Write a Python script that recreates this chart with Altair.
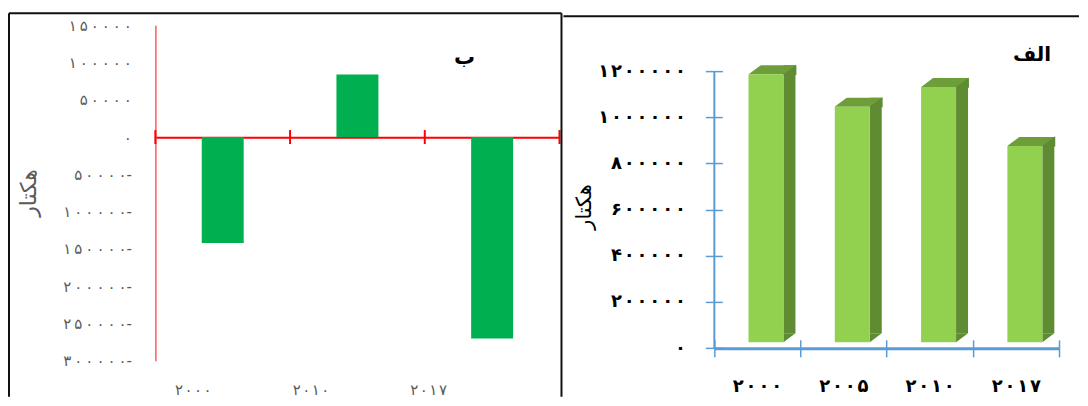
import altair as alt
import pandas as pd

# ---------------- data ----------------
# Panel "ب" (left)
left_years = ["2000", "2010", "2017"]
left_values = [-142000, 84000, -270000]
left_ticks = [150000, 100000, 50000, 0, -50000, -100000, -150000, -200000, -250000, -300000]

# Panel "الف" (right)
right_years = ["2000", "2005", "2010", "2017"]
right_values = [1160000, 1020000, 1105000, 850000]
right_ticks = [0, 200000, 400000, 600000, 800000, 1000000, 1200000]

title_left = "ب"
title_right = "الف"
y_title = "هکتار"

FA_DIGITS = "۰۱۲۳۴۵۶۷۸۹"
FA = str.maketrans("0123456789", FA_DIGITS)


def fa_expr(s, sep=""):
    e = s
    for d in range(10):
        e = f"replace({e}, regexp('{d}', 'g'), '{FA_DIGITS[d]}{sep}')"
    return f"trim({e})" if sep else e


num = "format(abs(datum.value), 'd')"


def y_label_expr(sep):
    return f"datum.value < 0 ? {fa_expr(num, sep)} + '-' : {fa_expr(num, sep)}"


THIN = "\u2009"
HAIR = "\u200a"
year_label_expr = f"isValid(datum.value) && datum.value !== '' ? {fa_expr(chr(39) * 2 + ' + datum.value', HAIR)} : ''"

FONT = "DejaVu Sans"
LW, LH = 553, 384
RW, RH = 516, 384

# ---------------- left panel ----------------
ldf = pd.DataFrame({"year": left_years, "value": left_values,
                    "label": [HAIR.join(y.translate(FA)) for y in left_years]})
one = pd.DataFrame({"t": [0]})

lx_scale = alt.Scale(domain=left_years, range=[146.5, 551], paddingInner=0, paddingOuter=0)
ly_scale = alt.Scale(domain=[-300000, 150000], range=[348, 12], nice=False)

lbars = alt.Chart(ldf).mark_bar(width=42, color="#00B050").encode(
    x=alt.X("year:N", scale=lx_scale,
            axis=alt.Axis(orient="top", offset=-124.3, domain=True, domainColor="#FF0000",
                          domainWidth=2, ticks=False, tickSize=0, labels=False, title=None, grid=False)),
    y=alt.Y("value:Q", scale=ly_scale,
            axis=alt.Axis(orient="left", offset=-146.5, values=left_ticks, domain=True,
                          domainColor="#FF5A5A", domainWidth=1.5, ticks=False, tickSize=0,
                          labelPadding=24, labelExpr=y_label_expr(THIN), labelColor="#595959",
                          labelFontSize=15, labelFont=FONT, title=None, grid=False)),
    y2=alt.datum(0),
)
ltick = alt.Chart(ldf).mark_rule(color="#FF0000", strokeWidth=2, yOffset=-7, y2Offset=7).encode(
    x=alt.X("year:N", scale=lx_scale, bandPosition=0),
    y=alt.datum(0), y2=alt.datum(0),
)
ltick_end = alt.Chart(ldf).transform_filter(alt.datum.year == left_years[-1]).mark_rule(
    color="#FF0000", strokeWidth=2, yOffset=-7, y2Offset=7).encode(
    x=alt.X("year:N", scale=lx_scale, bandPosition=1),
    y=alt.datum(0), y2=alt.datum(0),
)
lmain = alt.layer(lbars, ltick, ltick_end)

llabels = alt.Chart(ldf).mark_text(font=FONT, fontSize=15, color="#595959", baseline="middle").encode(
    x=alt.X("year:N", scale=alt.Scale(type="point", domain=left_years, range=[184.5, 420], padding=0),
            axis=None),
    y=alt.value(377),
    text="label:N",
)
ltitle = alt.Chart(pd.DataFrame({"t": [title_left]})).mark_text(
    font=FONT, fontSize=21, fontWeight="bold", color="black").encode(
    x=alt.value(456), y=alt.value(45), text="t:N")
lytitle = alt.Chart(pd.DataFrame({"t": [y_title]})).mark_text(
    font=FONT, fontSize=22, color="#595959", angle=270).encode(
    x=alt.value(20), y=alt.value(180), text="t:N")
lframe = alt.layer(
    alt.Chart(one).mark_rule(color="#111", strokeWidth=2).encode(x=alt.value(0), y=alt.value(0), y2=alt.value(LH)),
    alt.Chart(one).mark_rule(color="#111", strokeWidth=2).encode(x=alt.value(0), x2=alt.value(LW), y=alt.value(0)),
    alt.Chart(one).mark_rule(color="#111", strokeWidth=2).encode(x=alt.value(LW), y=alt.value(0), y2=alt.value(LH)),
)

left = alt.layer(lmain, llabels, ltitle, lytitle, lframe).resolve_scale(x="independent").properties(
    width=LW, height=LH)

# ---------------- right panel ----------------
rdf = pd.DataFrame({"year": right_years, "value": right_values})
rx_scale = alt.Scale(domain=right_years, range=[150.5, 496], paddingInner=0, paddingOuter=0)
ry_scale = alt.Scale(domain=[0, 1200000], range=[335.3, 58], nice=False)
BLUE = "#5B9BD5"
FRONT, SIDE, TOP = "#92D050", "#5F8B32", "#6E9E3A"
DX, DY, FW, FO, LIFT = 12, 9, 35, 9, 6
# right-angled triangles in a 12 x 9 px box (unit coords scaled by 6 px)
TRI_SIDE = "M-1,-0.75L-1,0.75L1,-0.75Z"
TRI_WHITE = "M-1.2,-0.95L-1.2,0.9L1.267,-0.95Z"
TRI_TOP = "M-1.133,0.85L1.15,-0.8625L1.15,0.85Z"

xr = alt.X("year:N", scale=rx_scale, axis=None)
yr = alt.Y("value:Q", scale=ry_scale, axis=None)
y0 = alt.YDatum(0, scale=ry_scale, axis=None)

side = alt.Chart(rdf).mark_bar(width=DX, xOffset=FO + FW / 2 + DX / 2, yOffset=-(LIFT + DY),
                               y2Offset=-(LIFT + DY), color=SIDE).encode(
    x=alt.X("year:N", scale=rx_scale,
            axis=alt.Axis(orient="top", offset=-335.5, domain=False, tickSize=8.5, tickColor=BLUE,
                          tickWidth=1.5, tickBand="extent", labels=False, title=None, grid=False)),
    y=alt.Y("value:Q", scale=ry_scale,
            axis=alt.Axis(orient="right", offset=-(RW - 150.5), values=right_ticks, domain=False,
                          tickSize=8.5, tickColor=BLUE, tickWidth=1.5, labels=False, title=None, grid=False)),
    y2=alt.datum(0),
)
side_tri = alt.Chart(rdf).mark_point(shape=TRI_SIDE, size=DX * DX, filled=True, color=SIDE, opacity=1,
                                     strokeWidth=0, xOffset=FO + FW / 2 + DX / 2,
                                     yOffset=-(LIFT + DY / 2)).encode(x=xr, y=y0)
top = alt.Chart(rdf).mark_bar(width=FW + DX, xOffset=FO + DX / 2, yOffset=-LIFT,
                              y2Offset=-(LIFT + DY), color=TOP).encode(
    x=xr, y=yr, y2=alt.Y2("value"))
top_tri = alt.Chart(rdf).mark_point(shape=TRI_TOP, size=DX * DX, filled=True, color=SIDE, opacity=1,
                                    strokeWidth=0, xOffset=FO + FW / 2 + DX / 2,
                                    yOffset=-(LIFT + DY / 2)).encode(x=xr, y=yr)
front = alt.Chart(rdf).mark_bar(width=FW, xOffset=FO, yOffset=-LIFT, y2Offset=-LIFT, color=FRONT).encode(
    x=alt.X("year:N", scale=rx_scale,
            axis=alt.Axis(orient="bottom", offset=-(RH - 335.5), domainColor=BLUE, domainWidth=3,
                          tickColor=BLUE, tickWidth=1.5, tickSize=8.5, tickBand="extent",
                          labelExpr=year_label_expr, labelFont=FONT, labelFontSize=18,
                          labelFontWeight="bold", labelColor="black", labelPadding=21,
                          labelAngle=0, title=None, grid=False)),
    y=alt.Y("value:Q", scale=ry_scale,
            axis=alt.Axis(orient="left", offset=-150.5, values=right_ticks, domainColor=BLUE,
                          domainWidth=2, tickSize=8.5, tickColor=BLUE, tickWidth=1.5,
                          labelPadding=20, labelExpr=y_label_expr(HAIR), labelFont=FONT,
                          labelFontSize=18, labelFontWeight="bold", labelColor="black",
                          title=None, grid=False)),
    y2=alt.datum(0),
)
white_tri = alt.Chart(rdf).mark_point(shape=TRI_WHITE, size=DX * DX, filled=True, color="white", opacity=1,
                                      strokeWidth=0, xOffset=FO - FW / 2 + DX / 2,
                                      yOffset=-(LIFT + DY / 2)).encode(x=xr, y=yr)

rtitle = alt.Chart(pd.DataFrame({"t": [title_right]})).mark_text(
    font=FONT, fontSize=20, fontWeight="bold", color="black").encode(
    x=alt.value(469), y=alt.value(42), text="t:N")
rytitle = alt.Chart(pd.DataFrame({"t": [y_title]})).mark_text(
    font=FONT, fontSize=21, color="black", angle=270).encode(
    x=alt.value(22), y=alt.value(194), text="t:N")
rframe = alt.Chart(one).mark_rule(color="#111", strokeWidth=2).encode(
    x=alt.value(0), x2=alt.value(RW), y=alt.value(3))

right = alt.layer(side, side_tri, top, top_tri, front, white_tri, rtitle, rytitle, rframe).resolve_axis(
    x="independent", y="independent").properties(width=RW, height=RH)

chart = alt.hconcat(left, right, spacing=0).properties(
    padding={"left": 0, "top": 4, "right": 0, "bottom": 0}
).configure_view(stroke=None).configure_axis(grid=False)

chart.save("out.html", embed_options={"renderer": "svg", "actions": False})
